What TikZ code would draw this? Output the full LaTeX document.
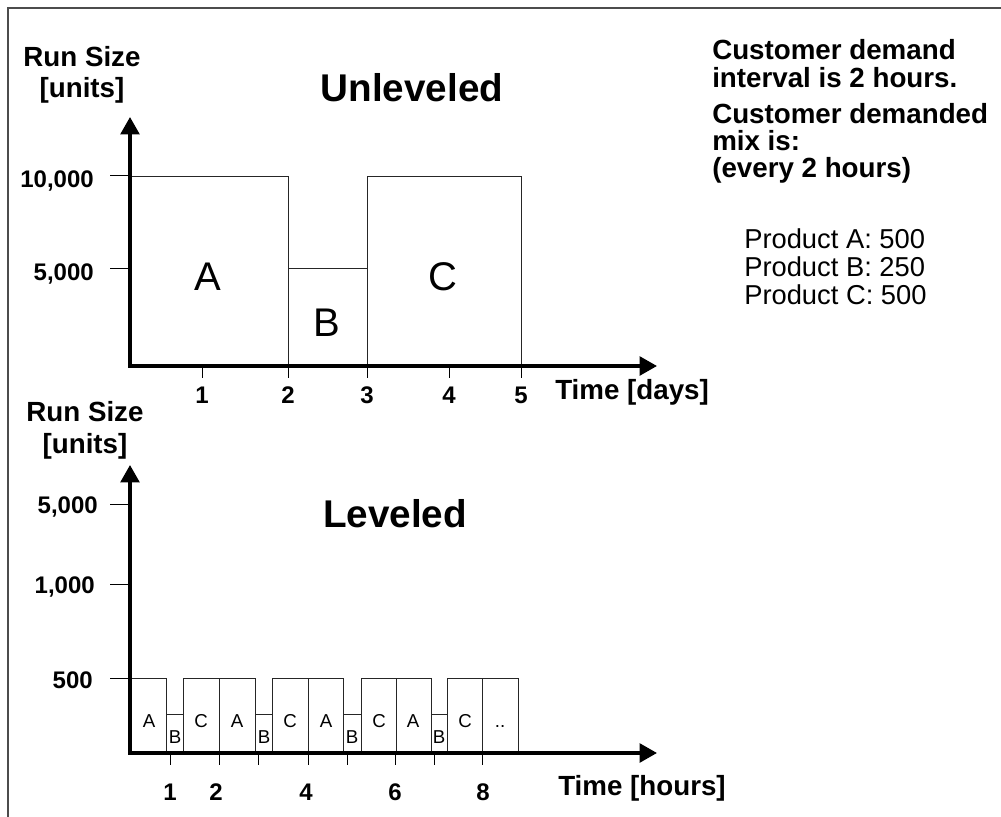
\documentclass[tikz,border=0pt]{standalone}
\usepackage{fontspec}
\setmainfont{Liberation Sans}
\usetikzlibrary{arrows.meta}
\begin{document}
\begin{tikzpicture}[x=0.75pt,y=-0.75pt,
  axisline/.style={line width=2.6pt,{Triangle[width=14pt,length=13pt]}-{Triangle[width=14pt,length=13pt]}},
  tk/.style={line width=0.75pt},
  bar/.style={line width=0.7pt, draw=black!85},
  lab/.style={font=\fontsize{20.8}{24}\selectfont\bfseries, inner sep=0pt},
  ticklab/.style={font=\fontsize{18}{21}\selectfont\bfseries, inner sep=0pt},
  ttl/.style={font=\fontsize{29}{34}\selectfont\bfseries, inner sep=0pt},
  big/.style={font=\fontsize{30}{36}\selectfont, inner sep=0pt},
  small/.style={font=\fontsize{14}{17}\selectfont, inner sep=0pt},
  prod/.style={font=\fontsize{20.5}{24}\selectfont, inner sep=0pt},
]
\useasboundingbox (0,0) rectangle (1001,817);
% frame
\draw[line width=0.9pt, black!70] (1001,8) -- (8,8) -- (8,817);

%================ Unleveled chart =================
\coordinate (O1) at (130,366);
\coordinate (Y1) at (130,117);
\coordinate (X1) at (657,366);
% boxes
\draw[bar] (130,176) rectangle (288,366);
\draw[bar] (288,268) rectangle (367,366);
\draw[bar] (367,176) rectangle (521,366);
% y ticks
\draw[tk] (110,176) -- (130,176);
\draw[tk] (110,268) -- (130,268);
% x ticks
\foreach \xx in {202,288,367,449,521} \draw[tk] (\xx,366) -- (\xx,378);
% axes
\draw[axisline] (Y1) -- (O1) -- (X1);
% labels
\node[lab, anchor=base] (rs1) at (82,67) {Run Size};
\node[lab, anchor=base] (un1) at (82,98) {[units]};
\node[ttl, anchor=base] (t1) at (412,102) {Unleveled};
\node[ticklab, anchor=base east] (y10k) at (94,188) {10,000};
\node[ticklab, anchor=base east] (y5k) at (94,280) {5,000};
\node[ticklab, anchor=base] (d1) at (202,403) {1};
\node[ticklab, anchor=base] (d2) at (288,403) {2};
\node[ticklab, anchor=base] (d3) at (367,403) {3};
\node[ticklab, anchor=base] (d4) at (449,403) {4};
\node[ticklab, anchor=base] (d5) at (521,403) {5};
\node[lab, anchor=base west] (td) at (555,399) {Time [days]};
\node[big, anchor=base] (bA) at (208,291) {A};
\node[big, anchor=base] (bB) at (327,336) {B};
\node[big, anchor=base] (bC) at (443,291) {C};

%================ right text =================
\node[lab, anchor=base west] (r1) at (712,60) {Customer demand};
\node[lab, anchor=base west] (r2) at (712,88) {interval is 2 hours.};
\node[lab, anchor=base west] (r3) at (712,123) {Customer demanded};
\node[lab, anchor=base west] (r4) at (712,151) {mix is:};
\node[lab, anchor=base west] (r5) at (712,177) {(every 2 hours)};
\node[prod, anchor=base west] (pA) at (744,248) {Product A: 500};
\node[prod, anchor=base west] (pB) at (744,276) {Product B: 250};
\node[prod, anchor=base west] (pC) at (744,304) {Product C: 500};

%================ Leveled chart =================
\coordinate (O2) at (130,753);
\coordinate (Y2) at (130,465);
\coordinate (X2) at (657,753);
% bars
\draw[bar] (130,678) rectangle (166,753);
\draw[bar] (166,714) rectangle (183,753);
\draw[bar] (183,678) rectangle (219,753);
\draw[bar] (219,678) rectangle (255,753);
\draw[bar] (255,714) rectangle (272,753);
\draw[bar] (272,678) rectangle (308,753);
\draw[bar] (308,678) rectangle (343,753);
\draw[bar] (343,714) rectangle (361,753);
\draw[bar] (361,678) rectangle (396,753);
\draw[bar] (396,678) rectangle (431,753);
\draw[bar] (431,714) rectangle (447,753);
\draw[bar] (447,678) rectangle (482,753);
\draw[bar] (482,678) rectangle (518,753);
% y ticks
\draw[tk] (110,504) -- (130,504);
\draw[tk] (110,584) -- (130,584);
\draw[tk] (110,678) -- (130,678);
% x ticks
\foreach \xx in {170,219,258,308,347,395,434,482} \draw[tk] (\xx,753) -- (\xx,765);
% axes
\draw[axisline] (Y2) -- (O2) -- (X2);
% labels
\node[lab, anchor=base] (rs2) at (85,421) {Run Size};
\node[lab, anchor=base] (un2) at (85,453) {[units]};
\node[ttl, anchor=base] (t2) at (395,527) {Leveled};
\node[ticklab, anchor=base east] (y5k2) at (98,513) {5,000};
\node[ticklab, anchor=base east] (y1k2) at (95,593) {1,000};
\node[ticklab, anchor=base east] (y500) at (93,688) {500};
\node[ticklab, anchor=base] (h1) at (170,800) {1};
\node[ticklab, anchor=base] (h2) at (216,800) {2};
\node[ticklab, anchor=base] (h4) at (306,800) {4};
\node[ticklab, anchor=base] (h6) at (395,800) {6};
\node[ticklab, anchor=base] (h8) at (483,800) {8};
\node[lab, anchor=base west] (th) at (558,795) {Time [hours]};
% bar letters
\node[small, anchor=base] (l1) at (149,727) {A};
\node[small, anchor=base] (l2) at (175,743) {B};
\node[small, anchor=base] (l3) at (201,727) {C};
\node[small, anchor=base] (l4) at (237,727) {A};
\node[small, anchor=base] (l5) at (264,743) {B};
\node[small, anchor=base] (l6) at (290,727) {C};
\node[small, anchor=base] (l7) at (326,727) {A};
\node[small, anchor=base] (l8) at (352,743) {B};
\node[small, anchor=base] (l9) at (379,727) {C};
\node[small, anchor=base] (l10) at (413,727) {A};
\node[small, anchor=base] (l11) at (439,743) {B};
\node[small, anchor=base] (l12) at (465,727) {C};
\node[small, anchor=base] (l13) at (500,727) {..};
\end{tikzpicture}
\end{document}
